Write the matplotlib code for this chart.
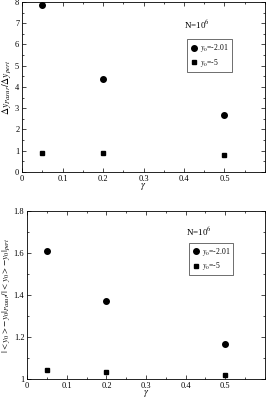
import matplotlib
matplotlib.use('Agg')
import matplotlib.pyplot as plt
from matplotlib.ticker import MultipleLocator

plt.rcParams['font.family'] = ['Liberation Serif', 'DejaVu Serif']
plt.rcParams['mathtext.fontset'] = 'stix'

# data
gamma = [0.05, 0.2, 0.5]
top_y201 = [7.88, 4.38, 2.67]
top_y5 = [0.88, 0.87, 0.82]
bot_y201 = [1.607, 1.373, 1.168]
bot_y5 = [1.04, 1.033, 1.02]

fig = plt.figure(figsize=(2.66, 3.98), dpi=100)
ax1 = fig.add_axes([0.083, 0.568, 0.913, 0.427])
ax2 = fig.add_axes([0.102, 0.048, 0.894, 0.422])

def style(ax, ymin, ymax, major, minor):
    ax.set_xlim(0, 0.6)
    ax.set_ylim(ymin, ymax)
    ax.xaxis.set_major_locator(MultipleLocator(0.1))
    ax.xaxis.set_minor_locator(MultipleLocator(0.05))
    ax.yaxis.set_major_locator(MultipleLocator(major))
    ax.yaxis.set_minor_locator(MultipleLocator(minor))
    ax.tick_params(which='both', direction='in', top=True, right=True,
                   labelsize=6, width=0.5, pad=2)
    ax.tick_params(which='major', length=3)
    ax.tick_params(which='minor', length=1.5)
    for s in ax.spines.values():
        s.set_linewidth(0.6)
    ax.set_xlabel(r'$\gamma$', fontsize=7, labelpad=-1)
    ax.set_xticks([0, 0.1, 0.2, 0.3, 0.4, 0.5])
    ax.set_xticklabels(['0', '0.1', '0.2', '0.3', '0.4', '0.5'])

def add_legend(ax, x, y):
    leg = ax.legend(loc='upper left', bbox_to_anchor=(x, y), fontsize=5.5,
                    frameon=True, fancybox=False, edgecolor='black',
                    borderpad=0.4, handletextpad=0.3, labelspacing=0.3,
                    handlelength=1.0, borderaxespad=0)
    leg.get_frame().set_linewidth(0.5)

style(ax1, 0, 8, 1, 0.5)
ax1.plot(gamma, top_y201, 'o', color='black', ms=4, label=r'$y_0$=-2.01')
ax1.plot(gamma, top_y5, 's', color='black', ms=3.5, label=r'$y_0$=-5')
ax1.set_ylabel(r'$\Delta y_{Pasur}/\Delta y_{pert}$', fontsize=7, labelpad=1)
ax1.text(0.40, 6.75, r'N=10$^6$', fontsize=6.5)
add_legend(ax1, 0.68, 0.78)

style(ax2, 1, 1.8, 0.2, 0.1)
ax2.set_yticks([1, 1.2, 1.4, 1.6, 1.8])
ax2.set_yticklabels(['1', '1.2', '1.4', '1.6', '1.8'])
ax2.plot(gamma, bot_y201, 'o', color='black', ms=4, label=r'$y_0$=-2.01')
ax2.plot(gamma, bot_y5, 's', color='black', ms=3.5, label=r'$y_0$=-5')
ax2.set_ylabel(r'$|<y_0>-y_0|_{Pasur}/|<y_0>-y_0|_{pert}$',
               fontsize=6.5, labelpad=1)
ax2.text(0.40, 1.68, r'N=10$^6$', fontsize=6.5)
add_legend(ax2, 0.68, 0.81)

fig.savefig('out.png', dpi=100)
